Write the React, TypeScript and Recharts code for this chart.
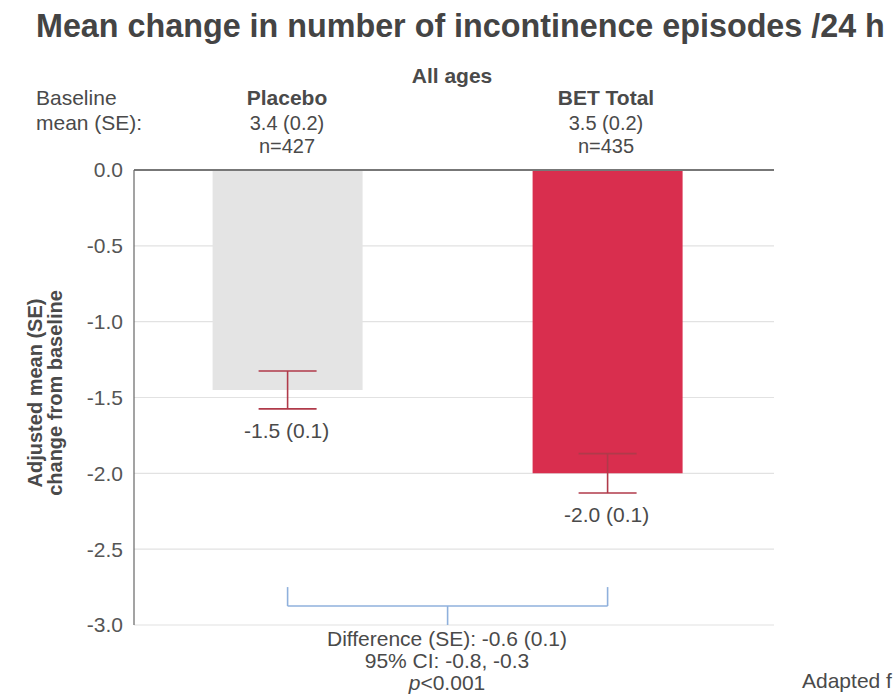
import React from 'react';
import {
  BarChart,
  Bar,
  Cell,
  XAxis,
  YAxis,
  CartesianGrid,
  ErrorBar,
  ReferenceLine,
  ReferenceDot,
} from 'recharts';

// ---- data ----
const categories = ['Placebo', 'BET Total'];
const meanChange = [-1.45, -2.0];
const standardError = [0.125, 0.13];
const valueLabels = ['-1.5 (0.1)', '-2.0 (0.1)'];
const baselineMeans = ['3.4 (0.2)', '3.5 (0.2)'];
const sampleSizes = ['n=427', 'n=435'];
const yTicks = [0, -0.5, -1, -1.5, -2, -2.5, -3];
const differenceLines = ['Difference (SE): -0.6 (0.1)', '95% CI: -0.8, -0.3'];
const pValueText = '<0.001';

// ---- styles ----
const barColors = ['#e4e4e4', '#d92e4e'];
const FONT = "'Liberation Sans', Arial, Helvetica, sans-serif";
const TEXT = '#4a4a4a';
const W = 895;
const H = 699;

const rows = categories.map((name, i) => ({
  pos: i + 0.5,
  name,
  value: meanChange[i],
  err: standardError[i],
  label: valueLabels[i],
}));

const bracketColor = '#8fb0dc';
const bracketTop = -2.75;
const bracketMid = -2.875;
const bracketBottom = -3;

const ValueLabel = (text: string) => (props: any) => {
  const vb = props.viewBox || {};
  const cx = (vb.x ?? 0) + (vb.width ?? 0) / 2;
  const cy = (vb.y ?? 0) + (vb.height ?? 0) / 2;
  return (
    <text
      x={cx - 1}
      y={cy + 29}
      textAnchor="middle"
      fontFamily={FONT}
      fontSize={21}
      fill={TEXT}
    >
      {text}
    </text>
  );
};

export default function App() {
  const colX = [287, 606];
  return (
    <div style={{ position: 'absolute', left: 0, top: 0, width: W, height: H, background: '#fff' }}>
      <BarChart
        width={W}
        height={H}
        data={rows}
        margin={{ top: 170, right: 121, bottom: 74, left: 0 }}
      >
        <CartesianGrid horizontal vertical={false} stroke="#e2e2e2" strokeWidth={1.2} />
        <XAxis
          dataKey="pos"
          type="number"
          domain={[0.02, 2.02]}
          ticks={[0.5, 1.5]}
          hide
        />
        <YAxis
          width={134}
          type="number"
          domain={[-3, 0]}
          ticks={yTicks}
          interval={0}
          tickFormatter={(v: number) => v.toFixed(1)}
          tickLine={false}
          tickSize={0}
          tickMargin={11}
          axisLine={{ stroke: '#666', strokeWidth: 1.2 }}
          tick={{ fill: '#555', fontSize: 21, fontFamily: FONT }}
        />
        <Bar dataKey="value" barSize={150} isAnimationActive={false}>
          {rows.map((r, i) => (
            <Cell key={r.name} fill={barColors[i]} />
          ))}
          <ErrorBar
            dataKey="err"
            direction="y"
            width={29}
            stroke="#b03a4a"
            strokeWidth={1.6}
            isAnimationActive={false}
          />
        </Bar>
        <ReferenceLine y={0} stroke="#777" strokeWidth={2} />
        {rows.map((r) => (
          <ReferenceDot
            key={'lbl' + r.name}
            x={r.pos}
            y={r.value - r.err}
            r={1}
            fill="none"
            stroke="none"
            label={ValueLabel(r.label)}
          />
        ))}
        <ReferenceLine
          segment={[{ x: rows[0].pos, y: bracketTop }, { x: rows[0].pos, y: bracketMid }]}
          stroke={bracketColor}
          strokeWidth={1.6}
        />
        <ReferenceLine
          segment={[{ x: rows[0].pos, y: bracketMid }, { x: rows[1].pos, y: bracketMid }]}
          stroke={bracketColor}
          strokeWidth={1.6}
        />
        <ReferenceLine
          segment={[{ x: rows[1].pos, y: bracketTop }, { x: rows[1].pos, y: bracketMid }]}
          stroke={bracketColor}
          strokeWidth={1.6}
        />
        <ReferenceLine
          segment={[
            { x: (rows[0].pos + rows[1].pos) / 2, y: bracketMid },
            { x: (rows[0].pos + rows[1].pos) / 2, y: bracketBottom },
          ]}
          stroke={bracketColor}
          strokeWidth={1.6}
        />
      </BarChart>
      <svg
        width={W}
        height={H}
        style={{ position: 'absolute', left: 0, top: 0, pointerEvents: 'none' }}
        fontFamily={FONT}
      >
        <text x={36} y={37} fontSize={32.3} fontWeight="bold" fill="#444">
          Mean change in number of incontinence episodes /24 h
        </text>
        <text x={452} y={83} fontSize={21} fontWeight="bold" fill={TEXT} textAnchor="middle">
          All ages
        </text>
        <text x={36} y={105} fontSize={21} fill={TEXT}>Baseline</text>
        <text x={36} y={130} fontSize={21} fill={TEXT}>mean (SE):</text>
        {categories.map((c, i) => (
          <g key={c}>
            <text x={colX[i]} y={105} fontSize={21} fontWeight="bold" fill={TEXT} textAnchor="middle">
              {c}
            </text>
            <text x={colX[i]} y={130} fontSize={20} fill={TEXT} textAnchor="middle">
              {baselineMeans[i]}
            </text>
            <text x={colX[i]} y={153} fontSize={20} fill={TEXT} textAnchor="middle">
              {sampleSizes[i]}
            </text>
          </g>
        ))}
        <text
          transform="translate(0,393) rotate(-90)"
          fontSize={20}
          fontWeight="bold"
          fill={TEXT}
          textAnchor="middle"
        >
          <tspan x={0} y={42}>Adjusted mean (SE)</tspan>
          <tspan x={0} y={62}>change from baseline</tspan>
        </text>
        <text x={447} y={646} fontSize={21} fill={TEXT} textAnchor="middle">
          {differenceLines[0]}
        </text>
        <text x={447} y={668} fontSize={21} fill={TEXT} textAnchor="middle">
          {differenceLines[1]}
        </text>
        <text x={447} y={690} fontSize={21} fill={TEXT} textAnchor="middle">
          <tspan fontStyle="italic">p</tspan>
          {pValueText}
        </text>
        <text x={802} y={688} fontSize={21} fill={TEXT}>
          Adapted f
        </text>
      </svg>
    </div>
  );
}
